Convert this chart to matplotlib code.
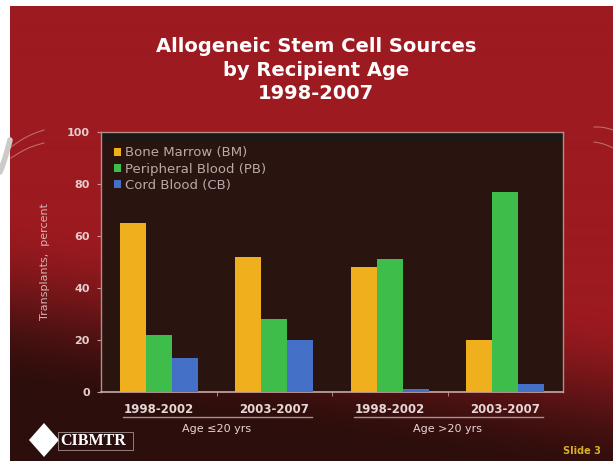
import matplotlib
matplotlib.use("Agg")
import matplotlib.pyplot as plt
import numpy as np
from matplotlib.patches import Polygon, Rectangle
from matplotlib.transforms import blended_transform_factory

# Доли источников стволовых клеток, %
periods = ["1998-2002", "2003-2007", "1998-2002", "2003-2007"]
age_groups = ["Age \u226420 yrs", "Age >20 yrs"]
series_names = ["Bone Marrow (BM)", "Peripheral Blood (PB)", "Cord Blood (CB)"]
bone_marrow = [65, 52, 48, 20]
peripheral_blood = [22, 28, 51, 77]
cord_blood = [13, 20, 1, 3]

colors = ["#f0b01e", "#3ebd4a", "#4470c8"]
W, H = 613, 461

fig = plt.figure(figsize=(W / 100, H / 100), dpi=100)

# фон слайда: красный сверху, тёмно-коричневый снизу, белая кайма слева и сверху
bg = fig.add_axes([0, 0, 1, 1], zorder=-5)
yy, xx = np.mgrid[0:H, 0:W]
y0 = 215 + 95 * (xx / W)
s = np.clip((yy - y0) / 175.0, 0, 1)
f = s * s * (3 - 2 * s)
top = np.array([156, 26, 32]) / 255
bottom = np.array([44, 14, 12]) / 255
img = top * (1 - f[..., None]) + bottom * f[..., None]
img[:, :10] = 1.0
img[:7, :] = 1.0
bg.imshow(img, extent=[0, W, H, 0], aspect="auto", interpolation="bilinear")
bg.set_xlim(0, W)
bg.set_ylim(H, 0)
bg.axis("off")


def curve(p0, p1, bend):
    # короткая дуга между двумя точками
    t = np.linspace(0, 1, 30)
    px = p0[0] + (p1[0] - p0[0]) * t
    py = p0[1] + (p1[1] - p0[1]) * t - bend * np.sin(np.pi * t)
    return px, py


# декоративные дуги по краям
for p0, p1, b in [((11, 147), (44, 130), 2), ((11, 158), (44, 143), 2),
                  ((594, 127), (613, 130), 1), ((594, 142), (613, 148), 1)]:
    bg.plot(*curve(p0, p1, b), color="white", alpha=0.35, lw=0.8)
bg.plot(*curve((10, 140), (0, 172), -2), color="#cfcaca", lw=4, solid_capstyle="round")

# логотип CIBMTR
bg.add_patch(Polygon([[29, 440], [44, 423], [59, 440], [44, 457]], closed=True,
                     facecolor="white", edgecolor="none"))
bg.add_patch(Rectangle((58, 432), 75, 18, facecolor="none", edgecolor="#a09090", lw=0.6))
bg.text(60, 441, "CIBMTR", color="white", fontsize=11.5, fontweight="bold",
        family="Liberation Serif", va="center", ha="left")
bg.text(601, 451, "Slide 3", color="#d8b020", fontsize=7, fontweight="bold",
        va="center", ha="right")

# заголовок
fig.text(0.515, 1 - 70 / H, "Allogeneic Stem Cell Sources\nby Recipient Age\n1998-2007",
         ha="center", va="center", color="white", fontsize=14, fontweight="bold",
         linespacing=1.32)

ax = fig.add_axes([101 / W, 1 - 392 / H, 462 / W, 260 / H])
ax.set_facecolor("#2a1410")

x = np.arange(len(periods))
bw = 0.225
for i, (vals, name) in enumerate(zip([bone_marrow, peripheral_blood, cord_blood], series_names)):
    ax.bar(x + (i - 1) * bw, vals, width=bw, color=colors[i], label=name, zorder=3)

ax.axhspan(97, 100, color="#1c1816", zorder=1)
ax.set_xlim(-0.5, 3.5)
ax.set_ylim(0, 100)
ax.set_yticks(range(0, 101, 20))
ax.set_xticks(x)
ax.set_xticklabels(periods)
ax.set_xticks([0.5, 1.5, 2.5], minor=True)

tick_col = "#e6cccc"
ax.tick_params(axis="y", colors="#c89a9a", labelcolor=tick_col, labelsize=8, length=3, pad=5)
ax.tick_params(axis="x", which="major", length=0, labelcolor="#e6d6d6", labelsize=8.5, pad=8)
ax.tick_params(axis="x", which="minor", length=3, color="#c89a9a")
for lbl in ax.get_yticklabels() + ax.get_xticklabels():
    lbl.set_fontweight("bold")

for side in ["left", "top", "right"]:
    ax.spines[side].set_color("#b88a8a")
    ax.spines[side].set_linewidth(1.0)
ax.spines["bottom"].set_color("#c8a8a8")
ax.spines["bottom"].set_linewidth(1.2)

ax.set_ylabel("Transplants,  percent", color="#d8b4b4", fontsize=8)
ax.yaxis.set_label_coords(-0.11, 0.5)

# подписи возрастных групп с линиями под периодами
trans = blended_transform_factory(ax.transData, ax.transAxes)
for g, label in enumerate(age_groups):
    c0, c1 = 2 * g, 2 * g + 1
    ax.plot([c0 - 0.31, c1 + 0.33], [-0.097, -0.097], transform=trans, color="#a89090",
            lw=1, clip_on=False)
    ax.text((c0 + c1) / 2, -0.143, label, transform=trans, ha="center", va="center",
            color="#e6d6d6", fontsize=8)

leg = ax.legend(loc="upper left", bbox_to_anchor=(0.01, 0.975), frameon=False,
                fontsize=9.5, handlelength=0.55, handleheight=0.55, handletextpad=0.35,
                labelspacing=0.25, borderaxespad=0.2)
for t in leg.get_texts():
    t.set_color("#b8aaaa")

fig.savefig("out.png", dpi=100)
